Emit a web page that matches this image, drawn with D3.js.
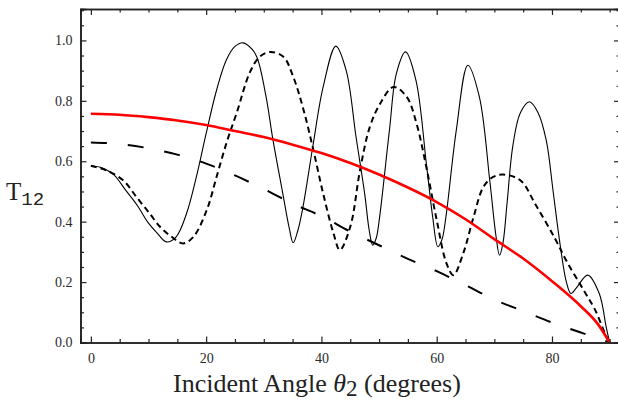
<!DOCTYPE html>
<html>
<head>
<meta charset="utf-8">
<script src="https://cdn.jsdelivr.net/npm/d3@7"></script>
<style>
  html, body { margin: 0; padding: 0; background: #fff; }
  svg { display: block; }
</style>
</head>
<body>
<svg id="chart" width="618" height="403"></svg>
<script>
// Transmission T12 versus incident angle (degrees)
const redAngles = [0, 5, 10, 15, 20, 25, 30, 35, 40, 45, 50, 55, 60, 65, 70, 75, 80, 85, 88, 90];
const redValues = [0.757, 0.754, 0.746, 0.735, 0.720, 0.700, 0.680, 0.655, 0.627, 0.594, 0.556, 0.513, 0.465, 0.408, 0.342, 0.278, 0.203, 0.120, 0.060, 0.0];

const longDashAngles = [0, 5, 10, 15, 20, 25, 30, 35, 40, 45, 50, 55, 60, 65, 70, 75, 80, 85, 90];
const longDashValues = [0.662, 0.657, 0.643, 0.622, 0.592, 0.553, 0.508, 0.460, 0.418, 0.367, 0.322, 0.277, 0.236, 0.190, 0.142, 0.104, 0.066, 0.033, 0.0];

const solidAngles = [0, 2, 4, 6, 8, 10, 11.5, 13.1, 14.8, 16.6, 18.3, 20, 21.8, 23.5, 25, 26.4, 28, 28.9, 30.4, 31.6, 33.3, 34.4, 35.1, 35.9, 36.8, 38.5, 40.3, 42.5, 44.3, 46, 47.5, 48.3, 48.9, 49.5, 50.1, 51.8, 53, 54.6, 56.4, 58.2, 59.3, 60.2, 60.9, 61.6, 63.4, 65.4, 67.4, 69.2, 70.3, 70.9, 71.5, 72.2, 73.2, 74.5, 76.1, 77.6, 79, 80.2, 81.3, 82.5, 83.3, 84.2, 86.2, 88.2, 89.4, 90];
const solidValues = [0.585, 0.578, 0.555, 0.505, 0.455, 0.395, 0.362, 0.333, 0.350, 0.427, 0.548, 0.692, 0.835, 0.935, 0.980, 0.992, 0.970, 0.940, 0.813, 0.670, 0.493, 0.380, 0.330, 0.370, 0.449, 0.648, 0.846, 0.981, 0.900, 0.681, 0.493, 0.370, 0.322, 0.345, 0.416, 0.703, 0.890, 0.962, 0.868, 0.593, 0.416, 0.317, 0.340, 0.416, 0.703, 0.918, 0.813, 0.537, 0.350, 0.289, 0.330, 0.460, 0.650, 0.760, 0.797, 0.760, 0.670, 0.500, 0.339, 0.200, 0.162, 0.180, 0.223, 0.162, 0.052, 0.0];

const dottedAngles = [0, 2.7, 5.6, 7.9, 10.2, 12, 14, 16, 17.8, 20.1, 21.8, 23.6, 25.3, 27.6, 29.3, 31.1, 33.4, 35.1, 36.9, 38.6, 40.3, 42.1, 43.2, 45, 46.7, 48.4, 50.2, 52.5, 54.8, 56.5, 58.3, 60, 61.7, 62.9, 64.6, 66.4, 68.1, 69.8, 71.5, 74.5, 77.2, 80.5, 82.6, 85.5, 87.5, 89.2, 90];
const dottedValues = [0.585, 0.570, 0.537, 0.482, 0.427, 0.383, 0.350, 0.328, 0.350, 0.438, 0.548, 0.665, 0.760, 0.895, 0.946, 0.962, 0.946, 0.880, 0.770, 0.637, 0.493, 0.361, 0.306, 0.383, 0.571, 0.714, 0.791, 0.846, 0.813, 0.725, 0.571, 0.405, 0.262, 0.223, 0.295, 0.416, 0.515, 0.548, 0.556, 0.537, 0.455, 0.345, 0.267, 0.173, 0.107, 0.030, 0.0];

const xMajorTicks = [0, 20, 40, 60, 80];
const yMajorTicks = [0.0, 0.2, 0.4, 0.6, 0.8, 1.0];

const svg = d3.select("#chart");
const frame = { left: 80.5, right: 620, top: 9, bottom: 342.5 };

const x = d3.scaleLinear().domain([-1.8, 91.8]).range([frame.left, frame.right]);
const y = d3.scaleLinear().domain([0, 1.104]).range([frame.bottom, frame.top]);

const xMinor = d3.range(0, 91, 5).filter(v => !xMajorTicks.includes(v));
const yMinor = d3.range(0, 1.11, 0.05).map(v => +v.toFixed(2)).filter(v => !yMajorTicks.some(m => Math.abs(m - v) < 1e-6));

const plot = svg.append("g");
plot.append("clipPath").attr("id", "clip")
  .append("rect")
  .attr("x", frame.left).attr("y", frame.top)
  .attr("width", frame.right - frame.left).attr("height", frame.bottom - frame.top);

const curves = plot.append("g").attr("clip-path", "url(#clip)");

function series(angles, values) {
  return angles.map((a, i) => [a, values[i]]);
}

const smooth = d3.line().x(d => x(d[0])).y(d => y(d[1])).curve(d3.curveCatmullRom.alpha(0.5));
const mono = d3.line().x(d => x(d[0])).y(d => y(d[1])).curve(d3.curveMonotoneX);

curves.append("path")
  .datum(series(longDashAngles, longDashValues))
  .attr("d", mono)
  .attr("fill", "none").attr("stroke", "#000").attr("stroke-width", 2)
  .attr("stroke-dasharray", "16,21");

curves.append("path")
  .datum(series(dottedAngles, dottedValues))
  .attr("d", smooth)
  .attr("fill", "none").attr("stroke", "#000").attr("stroke-width", 2)
  .attr("stroke-dasharray", "6,4");

curves.append("path")
  .datum(series(solidAngles, solidValues))
  .attr("d", smooth)
  .attr("fill", "none").attr("stroke", "#000").attr("stroke-width", 1.1);

curves.append("path")
  .datum(series(redAngles, redValues))
  .attr("d", mono)
  .attr("fill", "none").attr("stroke", "#ff0000").attr("stroke-width", 2.6);

// Frame with inward ticks on all four sides
const axisColor = "#222";
const majorLen = 6, minorLen = 3.5;

function inwardAxis(axisFn, scale, major, minor, tx, ty, showLabels, fmt) {
  const gMinor = svg.append("g").attr("transform", `translate(${tx},${ty})`)
    .call(axisFn(scale).tickValues(minor).tickSize(-minorLen).tickFormat(""));
  const gMajor = svg.append("g").attr("transform", `translate(${tx},${ty})`)
    .call(axisFn(scale).tickValues(major).tickSize(-majorLen).tickPadding(showLabels ? 8 : 0)
      .tickFormat(showLabels ? fmt : ""));
  [gMinor, gMajor].forEach(g => {
    g.select(".domain").attr("stroke", axisColor).attr("stroke-width", 1.6);
    g.selectAll(".tick line").attr("stroke", axisColor).attr("stroke-width", 1.2);
    g.selectAll("text")
      .attr("fill", "#2a2a2a")
      .style("font-family", "'Liberation Serif', 'DejaVu Serif', serif")
      .style("font-size", "14px");
  });
  return gMajor;
}

const xb = inwardAxis(d3.axisBottom, x, xMajorTicks, xMinor, 0, frame.bottom, true, d3.format("d"));
xb.selectAll("text").attr("dy", "0.9em");
inwardAxis(d3.axisTop, x, xMajorTicks, xMinor, 0, frame.top, false);
inwardAxis(d3.axisLeft, y, yMajorTicks, yMinor, frame.left, 0, true, d3.format(".1f"));
inwardAxis(d3.axisRight, y, yMajorTicks, yMinor, frame.right, 0, false);

// Axis titles
const xTitle = svg.append("text")
  .attr("x", 173).attr("y", 392)
  .attr("fill", "#222")
  .style("font-family", "'Liberation Serif', 'DejaVu Serif', serif")
  .style("font-size", "26px");
xTitle.append("tspan").text("Incident Angle ");
xTitle.append("tspan").attr("font-style", "italic").text("θ");
xTitle.append("tspan").attr("dy", 4).style("font-size", "23px").text("2");
xTitle.append("tspan").attr("dy", -4).text(" (degrees)");

const yTitle = svg.append("text")
  .attr("x", 6).attr("y", 200)
  .attr("fill", "#222")
  .style("font-family", "'Liberation Serif', 'DejaVu Serif', serif")
  .style("font-size", "25px");
yTitle.append("tspan").text("T");
yTitle.append("tspan").attr("dy", 5)
  .style("font-family", "'Liberation Mono', 'DejaVu Sans Mono', monospace")
  .style("font-size", "19px").text("12");
</script>
</body>
</html>
